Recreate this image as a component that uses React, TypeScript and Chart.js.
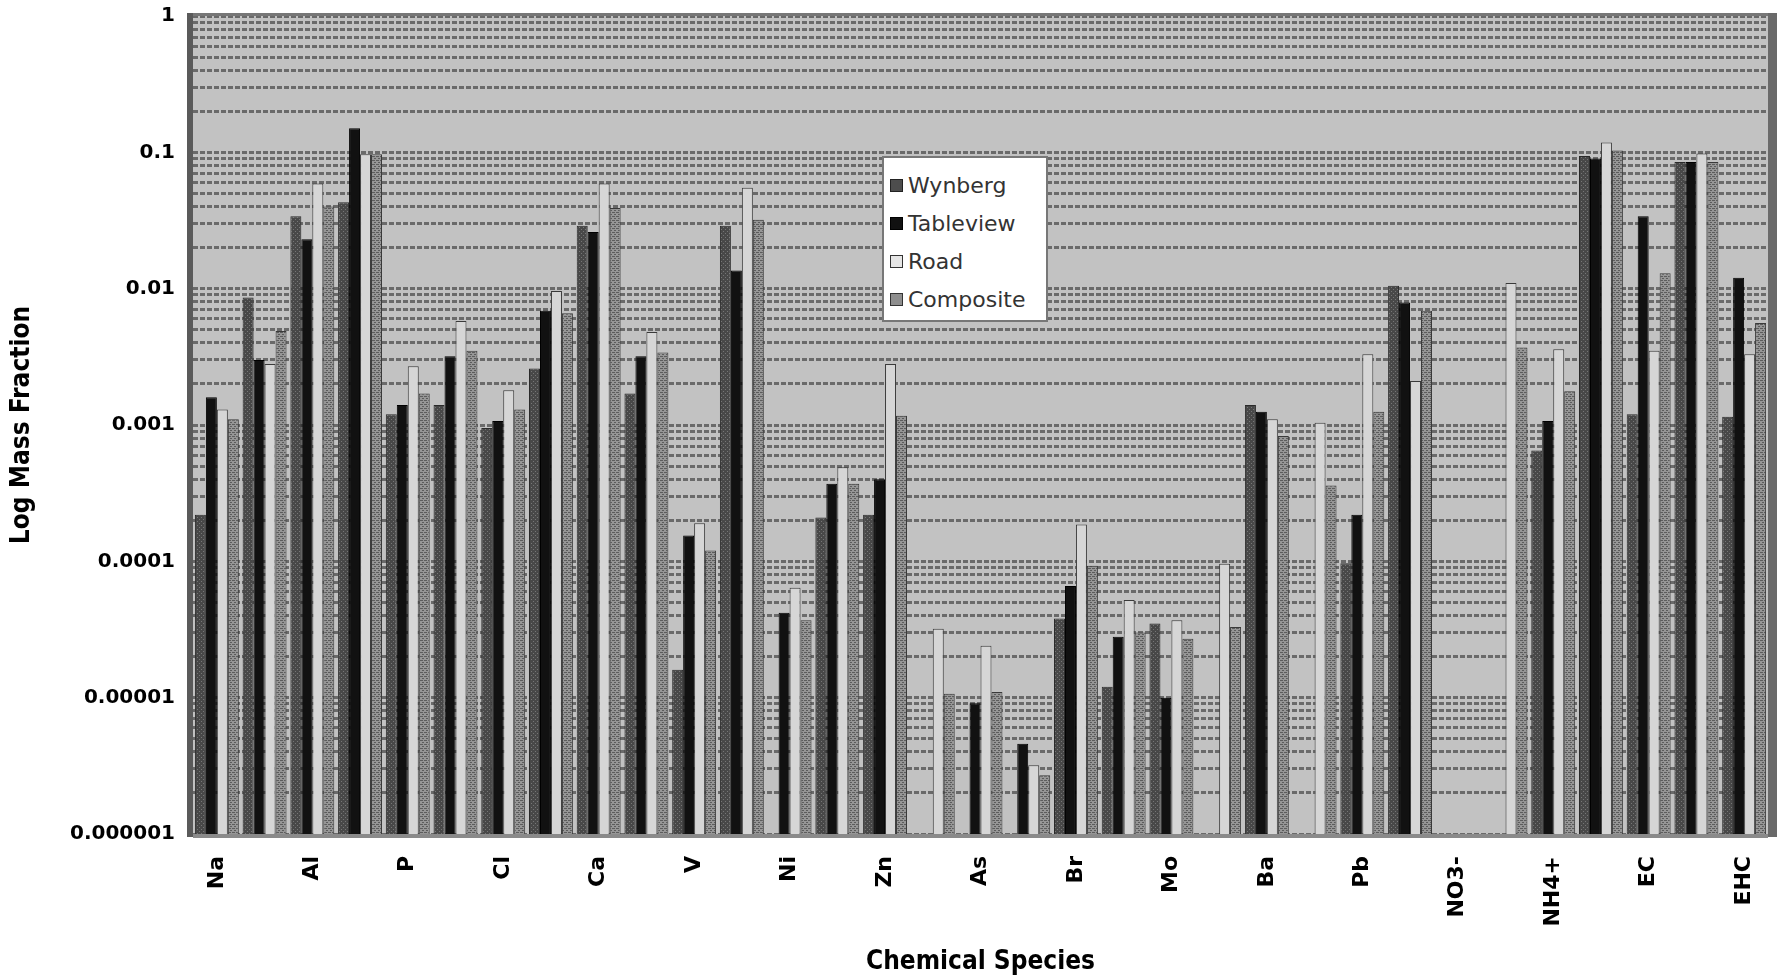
import React, { useEffect, useRef } from 'react';
import { Chart, registerables } from 'chart.js';

Chart.register(...registerables);

// Chemical species (every other label is shown on the axis, as in the original)
const categories = [
  'Na', 'Mg', 'Al', 'Si', 'P', 'S', 'Cl', 'K', 'Ca', 'Ti', 'V', 'Fe', 'Ni', 'Cu', 'Zn', 'Ga', 'As',
  'Se', 'Br', 'Sr', 'Mo', 'Sn', 'Ba', 'La', 'Pb', 'SO42-', 'NO3-', 'Cl-', 'NH4+', 'OC', 'EC', 'OHC', 'EHC',
];

const wynberg = [
  2.2e-4, 8.6e-3, 0.034, 0.043, 1.2e-3, 1.4e-3, 9.5e-4, 2.6e-3, 0.029, 1.7e-3, 1.6e-5, 0.029, null, 2.1e-4, 2.2e-4, null, null,
  null, 3.8e-5, 1.2e-5, 3.5e-5, null, 1.4e-3, null, 9.7e-5, 0.0105, null, null, 6.5e-4, 0.094, 1.2e-3, 0.085, 1.15e-3,
];
const tableview = [
  1.6e-3, 3.0e-3, 0.023, 0.15, 1.4e-3, 3.2e-3, 1.07e-3, 6.9e-3, 0.026, 3.2e-3, 1.55e-4, 0.0136, 4.2e-5, 3.7e-4, 4.0e-4, null, 9.1e-6,
  4.6e-6, 6.6e-5, 2.8e-5, 1.0e-5, null, 1.25e-3, null, 2.2e-4, 7.9e-3, null, null, 1.07e-3, 0.09, 0.034, 0.085, 0.012,
];
const road = [
  1.3e-3, 2.8e-3, 0.059, 0.097, 2.7e-3, 5.8e-3, 1.8e-3, 9.6e-3, 0.059, 4.8e-3, 1.9e-4, 0.055, 6.4e-5, 4.9e-4, 2.8e-3, 3.2e-5, 2.4e-5,
  3.2e-6, 1.86e-4, 5.2e-5, 3.7e-5, 9.6e-5, 1.1e-3, 1.04e-3, 3.3e-3, 2.1e-3, null, 0.011, 3.6e-3, 0.118, 3.5e-3, 0.098, 3.3e-3,
];
const composite = [
  1.1e-3, 4.9e-3, 0.040, 0.097, 1.7e-3, 3.5e-3, 1.3e-3, 6.6e-3, 0.039, 3.4e-3, 1.2e-4, 0.032, 3.7e-5, 3.7e-4, 1.17e-3, 1.07e-5, 1.1e-5,
  2.7e-6, 9.3e-5, 3.0e-5, 2.7e-5, 3.3e-5, 8.3e-4, 3.6e-4, 1.25e-3, 6.9e-3, null, 3.7e-3, 1.77e-3, 0.103, 0.013, 0.085, 5.6e-3,
];

const seriesNames = ['Wynberg', 'Tableview', 'Road', 'Composite'];
const yTickLabels = ['0.000001', '0.00001', '0.0001', '0.001', '0.01', '0.1', '1'];
const yMinExp = -6;
const yMaxExp = 0;

const TICK_FONT = "'DejaVu Sans', sans-serif";
const TITLE_FONT = "'Liberation Sans Narrow', 'DejaVu Sans Condensed', 'Liberation Sans', sans-serif";

function makePattern(base: string, line: string, kind: 'dots' | 'stripes' | 'solid'): CanvasPattern | string {
  const c = document.createElement('canvas');
  c.width = 4;
  c.height = 4;
  const g = c.getContext('2d');
  if (!g) return base;
  g.fillStyle = base;
  g.fillRect(0, 0, 4, 4);
  g.fillStyle = line;
  if (kind === 'dots') {
    g.fillRect(1, 1, 1, 1);
    g.fillRect(3, 3, 1, 1);
  } else if (kind === 'stripes') {
    g.fillRect(0, 0, 3, 1);
    g.fillRect(2, 2, 2, 1);
  }
  const p = g.createPattern(c, 'repeat');
  return p || base;
}

const legendSwatch: Record<string, React.CSSProperties> = {
  Wynberg: { background: '#4d4d4d', border: '1px solid #222' },
  Tableview: { background: '#111', border: '1px solid #000' },
  Road: { background: '#e6e6e6', border: '1px solid #333' },
  Composite: { background: '#8e8e8e', border: '1px solid #333' },
};

export default function App() {
  const canvasRef = useRef<HTMLCanvasElement | null>(null);

  useEffect(() => {
    const canvas = canvasRef.current;
    if (!canvas) return;

    const gridValues: number[] = [];
    for (let e = yMinExp; e <= yMaxExp; e++) {
      for (let s = 1; s <= 9; s++) {
        const v = s * Math.pow(10, e);
        if (e === yMaxExp && s > 1) break;
        gridValues.push(v);
      }
    }

    const fills = [
      makePattern('#484848', '#767676', 'dots'),
      '#111111',
      '#d6d6d6',
      makePattern('#969696', '#5c5c5c', 'stripes'),
    ];
    const borders = ['#2a2a2a', '#000000', '#3a3a3a', '#3a3a3a'];
    const seriesData = [wynberg, tableview, road, composite];

    const bgPlugin = {
      id: 'plotFrame',
      beforeDraw(chart: any) {
        const { ctx, chartArea: a } = chart;
        ctx.save();
        ctx.fillStyle = '#c2c2c2';
        ctx.fillRect(a.left, a.top, a.right - a.left, a.bottom - a.top);
        ctx.restore();
      },
      afterDraw(chart: any) {
        const { ctx, chartArea: a } = chart;
        ctx.save();
        ctx.fillStyle = '#5a5a5a';
        ctx.fillRect(a.left - 6, a.top - 3, 6, a.bottom - a.top + 6);
        ctx.fillStyle = '#6a6a6a';
        ctx.fillRect(a.right, a.top - 3, 9, a.bottom - a.top + 6);
        ctx.fillStyle = '#777777';
        ctx.fillRect(a.left, a.top - 3, a.right - a.left, 3);
        ctx.fillStyle = '#8a8a8a';
        ctx.fillRect(a.left, a.bottom, a.right - a.left, 4);
        ctx.restore();
      },
    };

    const chart = new Chart(canvas, {
      type: 'bar',
      data: {
        labels: categories,
        datasets: seriesNames.map((name, i) => ({
          label: name,
          data: seriesData[i] as any,
          backgroundColor: fills[i] as any,
          borderColor: borders[i],
          borderWidth: 1,
          categoryPercentage: 0.92,
          barPercentage: 1.0,
        })),
      },
      options: {
        animation: false,
        responsive: false,
        maintainAspectRatio: false,
        layout: { padding: { top: 16, right: 9, left: 0, bottom: 0 } },
        plugins: {
          legend: { display: false },
          tooltip: { enabled: false },
        },
        scales: {
          x: {
            type: 'category',
            grid: { display: false },
            border: { display: false },
            ticks: {
              autoSkip: false,
              maxRotation: 90,
              minRotation: 90,
              padding: 14,
              color: '#000',
              font: { family: TICK_FONT, size: 22, weight: 'bold' },
              callback: (_v: any, i: number) => (i % 2 === 0 ? categories[i] : ''),
            },
            title: {
              display: true,
              text: 'Chemical Species',
              color: '#000',
              font: { family: TITLE_FONT, size: 26, weight: 'bold' },
              padding: { top: 0, bottom: 2 },
            },
            afterFit: (s: any) => {
              s.height = 146;
              s.paddingLeft = 0;
              s.paddingRight = 0;
            },
          },
          y: {
            type: 'logarithmic',
            min: Math.pow(10, yMinExp),
            max: Math.pow(10, yMaxExp),
            afterBuildTicks: (s: any) => {
              s.ticks = gridValues.map((v) => ({ value: v }));
            },
            grid: { color: '#6a6a6a', lineWidth: 3, drawTicks: false },
            border: { display: false, dash: [5, 2] },
            ticks: {
              autoSkip: false,
              padding: 18,
              color: '#000',
              font: { family: TICK_FONT, size: 20, weight: 'bold' },
              callback: (v: any) => {
                const e = Math.log10(Number(v));
                const r = Math.round(e);
                if (Math.abs(e - r) < 1e-6) return yTickLabels[r - yMinExp];
                return '';
              },
            },
            title: {
              display: true,
              text: 'Log Mass Fraction',
              color: '#000',
              font: { family: TITLE_FONT, size: 26, weight: 'bold' },
              padding: { top: 7, bottom: 0 },
            },
            afterFit: (s: any) => {
              s.width = 193;
              s.paddingTop = 0;
              s.paddingBottom = 0;
            },
          },
        },
      } as any,
      plugins: [bgPlugin],
    });

    return () => chart.destroy();
  }, []);

  return (
    <div style={{ position: 'fixed', left: 0, top: 0, width: 1777, height: 980, background: '#fff' }}>
      <canvas ref={canvasRef} width={1777} height={980} style={{ display: 'block', width: 1777, height: 980 }} />
      <div
        style={{
          position: 'absolute',
          left: 882,
          top: 156,
          width: 166,
          height: 166,
          background: '#fff',
          border: '2px solid #777',
          boxSizing: 'border-box',
          padding: '8px 0 0 6px',
          fontFamily: TICK_FONT,
          fontSize: 22,
          color: '#333',
        }}
      >
        {seriesNames.map((n) => (
          <div key={n} style={{ display: 'flex', alignItems: 'center', height: 38, whiteSpace: 'nowrap' }}>
            <span style={{ display: 'inline-block', width: 11, height: 11, marginRight: 5, ...legendSwatch[n] }} />
            <span>{n}</span>
          </div>
        ))}
      </div>
    </div>
  );
}
